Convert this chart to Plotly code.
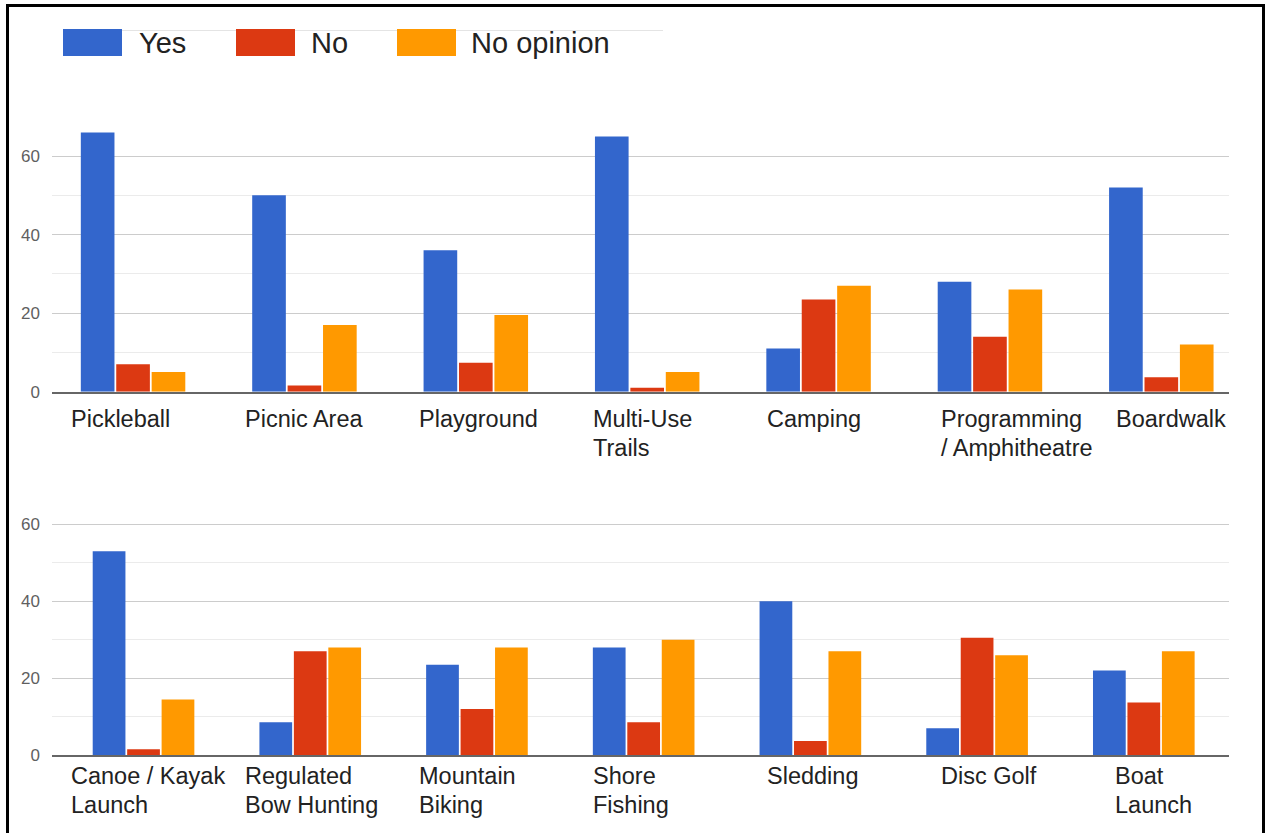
import plotly.graph_objects as go

# Survey answers per amenity
series = ["Yes", "No", "No opinion"]
colors = ["#3366CC", "#DC3912", "#FF9900"]

top_categories = ["Pickleball", "Picnic Area", "Playground", "Multi-Use Trails",
                  "Camping", "Programming / Amphitheatre", "Boardwalk"]
top_labels = ["Pickleball", "Picnic Area", "Playground", "Multi-Use<br>Trails",
              "Camping", "Programming<br>/ Amphitheatre", "Boardwalk"]
top_yes = [66, 50, 36, 65, 11, 28, 52]
top_no = [7, 1.6, 7.4, 1, 23.5, 14, 3.7]
top_noop = [5, 17, 19.5, 5, 27, 26, 12]

bottom_categories = ["Canoe / Kayak Launch", "Regulated Bow Hunting", "Mountain Biking",
                     "Shore Fishing", "Sledding", "Disc Golf", "Boat Launch"]
bottom_labels = ["Canoe / Kayak<br>Launch", "Regulated<br>Bow Hunting", "Mountain<br>Biking",
                 "Shore<br>Fishing", "Sledding", "Disc Golf", "Boat<br>Launch"]
bottom_yes = [53, 8.6, 23.5, 28, 40, 7, 22]
bottom_no = [1.6, 27, 12, 8.6, 3.7, 30.5, 13.7]
bottom_noop = [14.5, 28, 28, 30, 27, 26, 27]

y_ticks = [0, 20, 40, 60]

W, H = 1265, 833
FONT = "Liberation Sans, Arial, sans-serif"
LABEL_LINE_STEP = 29


def px(x):
    return x / W


def py(y):
    return 1 - y / H


fig = go.Figure()

panels = [
    ("x", "y", top_categories, [top_yes, top_no, top_noop]),
    ("x2", "y2", bottom_categories, [bottom_yes, bottom_no, bottom_noop]),
]
for xa, ya, cats, vals in panels:
    for name, color, v in zip(series, colors, vals):
        fig.add_trace(go.Bar(
            x=cats, y=v, name=name, marker_color=color, marker_line_width=0,
            xaxis=xa, yaxis=ya, showlegend=False,
        ))

axis_common_y = dict(
    range=[0, 70], tickmode="array", tickvals=y_ticks,
    showgrid=True, gridcolor="#cccccc", gridwidth=1,
    minor=dict(tick0=0, dtick=10, showgrid=True, gridcolor="#ebebeb", gridwidth=1),
    zeroline=False, ticks="", ticklabelstandoff=11,
    tickfont=dict(family=FONT, size=17, color="#5f5f5f"),
    automargin=False, fixedrange=True,
)
axis_common_x = dict(
    type="category", showgrid=False, showticklabels=False, ticks="",
    showline=True, linecolor="#666666", linewidth=2, zeroline=False,
    automargin=False, fixedrange=True,
)

fig.update_layout(
    width=W, height=H,
    margin=dict(l=0, r=0, t=0, b=0, pad=0),
    paper_bgcolor="white", plot_bgcolor="white",
    barmode="group", bargap=0.38, bargroupgap=0.05,
    xaxis=dict(axis_common_x, domain=[px(52), px(1228.5)], anchor="y",
               range=[-0.473, 6.392]),
    yaxis=dict(axis_common_y, domain=[py(391.7), py(116.8)], anchor="x"),
    xaxis2=dict(axis_common_x, domain=[px(52), px(1228.5)], anchor="y2",
                range=[-0.549, 6.508]),
    yaxis2=dict(axis_common_y, domain=[py(755.3), py(485.8)], anchor="x2"),
)

annotations = []


def add_labels(cats, labels, xref, yref, shift0, shift_step, yshift0):
    # Left-aligned category labels under each group, one annotation per line
    for i, (cat, lab) in enumerate(zip(cats, labels)):
        for j, line in enumerate(lab.split("<br>")):
            annotations.append(dict(
                x=cat, y=0, xref=xref, yref=yref, xanchor="left", yanchor="top",
                align="left", xshift=shift0 + shift_step * i,
                yshift=yshift0 - LABEL_LINE_STEP * j, showarrow=False, text=line,
                font=dict(family=FONT, size=23.5, color="#222222"),
            ))


add_labels(top_categories, top_labels, "x", "y domain", -64, 2.7, -12)
add_labels(bottom_categories, bottom_labels, "x2", "y2 domain", -74.5, 7.2, -6)

shapes = []
# Faint rule behind the key
shapes.append(dict(type="line", xref="paper", yref="paper", layer="below",
                   x0=px(122), x1=px(663), y0=py(30.5), y1=py(30.5),
                   line=dict(color="#e4e4e4", width=1)))

# Key: wide colour swatches with names
key_swatch_x = [63, 236, 397]
key_text_x = [137, 309, 469]
for name, color, sx, tx in zip(series, colors, key_swatch_x, key_text_x):
    shapes.append(dict(type="rect", xref="paper", yref="paper",
                       x0=px(sx), x1=px(sx + 59), y0=py(56), y1=py(29),
                       fillcolor=color, line=dict(width=0)))
    annotations.append(dict(x=px(tx), y=py(43.5), xref="paper", yref="paper",
                            xanchor="left", yanchor="middle", showarrow=False,
                            text=name, font=dict(family=FONT, size=29, color="#222222")))

# Black frame around the whole chart
shapes.append(dict(type="path", xref="paper", yref="paper",
                   path=f"M {px(7.5)} {py(845)} L {px(7.5)} {py(5.5)} "
                        f"L {px(1263.5)} {py(5.5)} L {px(1263.5)} {py(845)}",
                   line=dict(color="black", width=3)))

fig.update_layout(annotations=annotations, shapes=shapes)

fig.write_html("out.html", config={"displayModeBar": False})
